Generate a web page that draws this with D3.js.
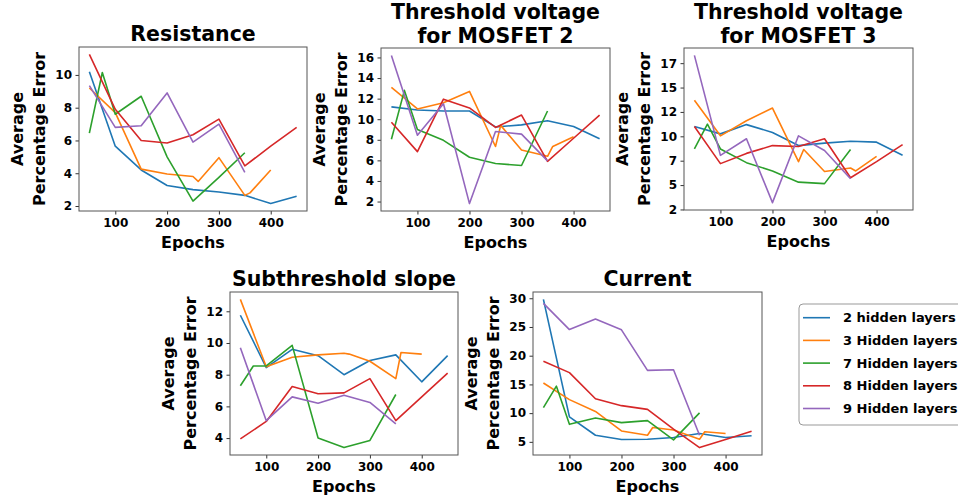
<!DOCTYPE html>
<html><head><meta charset="utf-8">
<script src="https://cdn.jsdelivr.net/npm/d3@7"></script>
<style>
body{margin:0;background:#fff}
svg{display:block}
text{font-family:"DejaVu Sans",sans-serif;font-weight:bold;fill:#000}
</style>
</head><body>
<svg id="c" width="958" height="503"></svg>
<script>
// ---- data ----
const seriesNames = ["2 hidden layers","3 Hidden layers","7 Hidden layers","8 Hidden layers","9 Hidden layers"];
const colors = ["#1f77b4","#ff7f0e","#2ca02c","#d62728","#9467bd"];
const epochs2 = [50,100,150,200,250,300,350,400,450];
const epochs3 = [50,100,150,200,250,260,300,350,360,400];
const epochs7 = [50,75,100,150,200,250,300,350];
const epochs8 = [50,100,150,200,250,300,350,400,450];
const epochs9 = [50,100,150,200,250,300,350];
const xTicks = [100,200,300,400];

const resistance = [
  [10.2,5.65,4.2,3.25,3.0,2.85,2.65,2.15,2.6],
  [9.2,7.7,4.25,3.95,3.8,3.5,4.95,2.65,2.8,4.2],
  [6.45,10.15,7.6,8.7,5.0,2.3,3.75,5.25],
  [11.25,7.9,6.0,5.85,6.35,7.3,4.45,5.65,6.8],
  [9.35,6.8,6.9,8.9,5.9,7.0,4.05]
];
const vth2 = [
  [11.2,10.9,10.8,10.8,9.25,9.45,9.85,9.3,8.1],
  [13.1,11.0,11.6,12.7,7.35,9.4,7.0,6.4,7.35,8.3],
  [8.05,12.8,9.0,7.95,6.3,5.7,5.5,10.8],
  [9.7,6.85,11.95,11.1,9.2,10.4,5.9,8.15,10.4],
  [16.2,8.45,11.5,1.8,8.8,8.55,5.95]
];
const vth3 = [
  [11.0,10.25,11.2,10.4,9.05,9.3,9.5,9.4,8.05],
  [13.7,10.05,11.6,12.9,7.4,8.65,6.4,6.75,6.45,7.95],
  [8.7,11.25,8.7,7.3,6.45,5.3,5.15,8.65],
  [11.0,7.2,8.25,9.05,8.95,9.75,5.75,7.4,9.15],
  [18.3,8.05,9.75,3.2,10.05,8.55,5.65]
];
const subslope = [
  [11.75,8.45,9.6,9.2,8.0,8.9,9.25,7.55,9.2],
  [12.75,8.5,9.1,9.25,9.35,9.3,8.85,7.75,9.4,9.3],
  [7.3,8.55,8.55,9.85,4.0,3.4,3.85,6.75],
  [3.95,5.05,7.25,6.8,6.85,7.75,5.1,6.6,8.1],
  [9.7,5.1,6.6,6.2,6.7,6.25,4.9]
];
const current = [
  [29.8,9.35,6.15,5.4,5.45,5.75,6.45,5.75,6.05],
  [15.25,12.35,10.3,6.9,6.15,7.5,7.05,5.45,6.75,6.45],
  [10.95,14.7,8.05,9.15,8.35,8.7,5.35,10.05],
  [19.05,17.05,12.5,11.3,10.65,7.2,4.0,5.4,6.85],
  [29.1,24.55,26.4,24.5,17.45,17.55,6.15]
];
const yTicksResistance = [2,4,6,8,10];
const yTicksVth2 = [2,4,6,8,10,12,14,16];
const yTicksVth3 = [2.5,5,7.5,10,12.5,15,17.5];
const yTicksSub = [4,6,8,10,12];
const yTicksCurrent = [5,10,15,20,25,30];

// ---- layout ----
const allEpochs = [epochs2,epochs3,epochs7,epochs8,epochs9];
const panels = [
  {title:["Resistance"], data:resistance, ticks:yTicksResistance, box:[79,47,228,164]},
  {title:["Threshold voltage","for MOSFET 2"], data:vth2, ticks:yTicksVth2, box:[381,48,229,163]},
  {title:["Threshold voltage","for MOSFET 3"], data:vth3, ticks:yTicksVth3, box:[684,48,229,162]},
  {title:["Subthreshold slope"], data:subslope, ticks:yTicksSub, box:[230,292,228,163]},
  {title:["Current"], data:current, ticks:yTicksCurrent, box:[533,292,229,163]}
];

const svg = d3.select("#c");
const xExt = d3.extent(allEpochs.flat());
const xPad = (xExt[1]-xExt[0])*0.05;

panels.forEach(p => {
  const [bx,by,bw,bh] = p.box;
  const g = svg.append("g").attr("transform",`translate(${bx},${by})`);
  const yExt = d3.extent(p.data.flat());
  const yPad = (yExt[1]-yExt[0])*0.05;
  const x = d3.scaleLinear().domain([xExt[0]-xPad, xExt[1]+xPad]).range([0,bw]);
  const y = d3.scaleLinear().domain([yExt[0]-yPad, yExt[1]+yPad]).range([bh,0]);

  const line = d3.line().x(d=>x(d[0])).y(d=>y(d[1]));
  p.data.forEach((vals,i) => {
    const pts = vals.map((v,j)=>[allEpochs[i][j], v]);
    g.append("path").attr("d",line(pts)).attr("fill","none")
      .attr("stroke",colors[i]).attr("stroke-width",1.6).attr("stroke-linejoin","round");
  });

  const xa = g.append("g").attr("transform",`translate(0,${bh})`)
    .call(d3.axisBottom(x).tickValues(xTicks).tickSize(3.5).tickPadding(3.5).tickFormat(d3.format("d")));
  const ya = g.append("g")
    .call(d3.axisLeft(y).tickValues(p.ticks).tickSize(3.5).tickPadding(3.5).tickFormat(d=>String(Math.trunc(d))));
  [xa,ya].forEach(a=>{
    a.select(".domain").remove();
    a.selectAll("line").attr("stroke","#333");
    a.selectAll("text").style("font-size","12px").style("font-family","DejaVu Sans").style("font-weight","bold").attr("fill","#000");
  });
  g.append("rect").attr("x",0).attr("y",0).attr("width",bw).attr("height",bh)
    .attr("fill","none").attr("stroke","#555").attr("stroke-width",1);

  // title
  const n = p.title.length;
  p.title.forEach((t,k)=>{
    const yPos = n === 1 ? -6 : -5-(n-1-k)*24;
    g.append("text").attr("x",bw/2).attr("y",yPos)
      .attr("text-anchor","middle").style("font-size","20.5px").text(t);
  });
  // x label
  g.append("text").attr("x",bw/2).attr("y",bh+37).attr("text-anchor","middle")
    .style("font-size","16px").text("Epochs");
  // y label
  [["Average",-62],["Percentage Error",-40]].forEach(([t,off])=>{
    g.append("text").attr("transform",`translate(${off},${bh/2}) rotate(-90)`)
      .attr("text-anchor","middle").attr("dy","0.35em").style("font-size","16px").text(t);
  });
});

// legend
const lg = svg.append("g").attr("transform","translate(799,304)");
lg.append("rect").attr("x",0).attr("y",0).attr("width",175).attr("height",121).attr("rx",4)
  .attr("fill","#fff").attr("stroke","#999").attr("stroke-width",1);
seriesNames.forEach((s,i)=>{
  const cy = 13.7 + i*22.7;
  lg.append("line").attr("x1",4).attr("x2",31).attr("y1",cy).attr("y2",cy)
    .attr("stroke",colors[i]).attr("stroke-width",1.6);
  lg.append("text").attr("x",44).attr("y",cy).attr("dy","0.35em").style("font-size","13px").text(s);
});
</script>
</body></html>
